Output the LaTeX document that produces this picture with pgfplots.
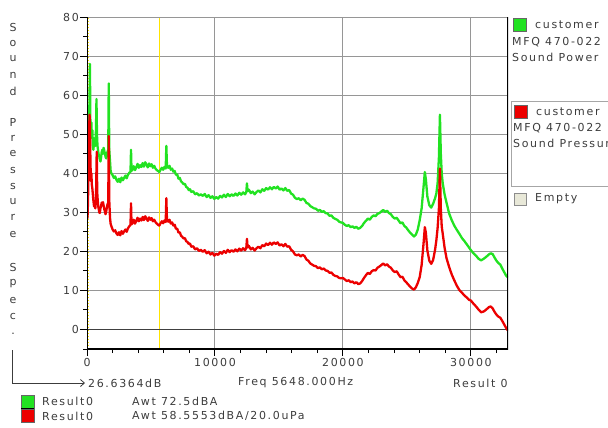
\documentclass[border=0pt]{standalone}
\usepackage{fontspec}
\setmainfont{DejaVu Sans}[LetterSpace=15]
\usepackage{pgfplots}
\pgfplotsset{compat=1.18}
\usetikzlibrary{arrows.meta}
\definecolor{cgreen}{RGB}{34,226,34}
\definecolor{cred}{RGB}{236,0,0}
\definecolor{cyell}{RGB}{255,228,0}
\definecolor{cgrid}{RGB}{150,150,150}
\definecolor{ctext}{RGB}{60,60,60}
\definecolor{cbeige}{RGB}{232,232,216}
\newcommand{\uf}{\fontsize{11}{13}\selectfont}
\begin{document}
\begin{tikzpicture}[x=1pt,y=1pt]
\path[use as bounding box, clip] (0pt,0pt) rectangle (608pt,-428pt);
\begin{axis}[
  at={(87pt,-349pt)}, anchor=south west,
  scale only axis, width=421pt, height=332pt,
  xmin=0, xmax=32900, ymin=-5, ymax=80,
  axis line style={draw=none},
  xtick={0,10000,20000,30000},
  minor xtick={2000,4000,6000,8000,12000,14000,16000,18000,22000,24000,26000,28000,32000},
  ytick={0,10,...,80},
  minor ytick={-5,5,15,25,35,45,55,65,75},
  scaled x ticks=false,
  tick pos=left, tick align=outside,
  major tick length=7pt, minor tick length=4pt,
  every tick/.style={black, line width=1pt},
  grid=major,
  grid style={cgrid, line width=1pt},
  /pgf/number format/1000 sep={},
  /pgf/number format/assume math mode=true,
  ticklabel style={font=\uf, text=ctext},
  yticklabel style={inner sep=1pt},
  xticklabel style={inner sep=2pt},
  clip=true,
]
\addplot[cyell, line width=1.3pt] coordinates {(5648,-5) (5648,80)};
\addplot[cyell, line width=1pt, dotted] coordinates {(80,-5) (80,80)};
\addplot[black!75, line width=1.3pt] coordinates {(0,0) (32900,0)};
% green: sound power
\addplot[cgreen, line width=2.3pt, line join=round] coordinates {
(0,41)(40,44)(80,50)(120,55)(160,52)(200,60)(230,68)(260,54)(300,50)(340,53)(380,49)(420,51)(460,47)(500,46)(550,48)(600,49)(650,47)(700,51)(740,59)(780,50)(820,47)(860,46)(900,45)(950,44.5)(1000,43.5)(1050,43)(1100,44)(1150,45.5)(1200,46)(1250,45)(1300,46.5)(1350,45.8)(1400,45)(1450,44.2)(1500,43.8)(1550,44.5)(1600,45.5)(1660,46)(1700,63)(1740,46)(1800,43)(1850,40.5)(1900,40)
(2000,39.5)(2100,38.8)(2200,39.2)(2300,38.3)(2400,37.8)(2500,38.6)(2600,37.7)(2700,38.9)(2800,38.2)(2900,38.8)(3000,39.4)(3100,38.7)(3200,39.6)(3300,40.1)(3400,40.4)(3440,46)(3480,40.6)(3550,40.9)(3650,41.8)(3750,40.8)(3850,41.5)(3950,42.4)(4050,41.4)(4150,42.1)(4250,41.6)(4350,42.6)(4450,41.7)(4550,42.8)(4650,42.2)(4750,41.5)(4850,42.5)(4950,41.8)(5050,42.3)(5150,41.4)(5250,41.9)(5350,41.2)(5450,40.8)(5550,40.6)(5650,40.3)(5750,40.9)(5850,41.4)(5950,40.9)(6050,41.6)(6150,41.2)(6200,47)(6250,41.8)(6350,41.4)(6450,41.9)(6550,40.9)(6650,41.2)(6750,40.4)(6850,40.6)(6950,39.6)(7050,39.7)(7150,38.6)(7250,38.8)(7350,37.9)(7450,37.6)(7550,37.2)(7650,37.3)(7750,36.5)(7850,36.3)(7950,35.7)(8050,35.9)(8150,35.2)(8300,35.4)(8450,34.6)(8600,34.9)(8750,34.3)(8900,34.6)(9050,34.2)(9200,34.7)(9350,33.9)(9500,34.4)(9650,33.7)(9800,34.1)(9950,33.4)
(10100,33.9)(10250,33.5)(10400,34.2)(10550,33.8)(10700,34.5)(10850,33.9)(11000,34.7)(11150,34.1)(11300,34.6)(11450,34.2)(11600,34.8)(11750,34.3)(11900,35)(12050,34.5)(12200,35.1)(12350,34.6)(12450,35.2)(12500,37.4)(12550,35.4)(12650,35.8)(12800,34.9)(12950,35.3)(13100,34.6)(13250,35.2)(13400,35.6)(13550,35.1)(13700,35.9)(13850,35.5)(14000,36.2)(14150,35.8)(14300,36.4)(14450,35.9)(14600,36.5)(14750,36.1)(14900,36.6)(15050,35.8)(15200,36.1)(15350,35.6)(15500,36.2)(15650,35.5)(15800,35.7)(15950,34.8)(16100,34.5)(16250,33.7)(16400,33.4)(16550,33.6)(16700,33.1)(16850,33.5)(17000,33.2)(17150,32.4)(17300,32.2)(17450,31.6)(17600,31.3)(17750,31)(17900,30.9)(18050,30.4)(18200,30.6)(18350,30.1)(18500,30.3)(18650,29.8)(18800,29.7)(18950,29.1)(19100,29.2)(19250,28.6)(19400,28.3)(19550,28.1)(19700,27.6)(19850,27.4)
(20000,27.3)(20150,26.8)(20300,26.5)(20450,26.7)(20600,26.2)(20750,26.4)(20900,26)(21050,26.3)(21200,25.8)(21350,26)(21500,26.5)(21650,27.3)(21800,27.8)(21950,28.4)(22100,28.1)(22250,28.8)(22400,29.2)(22550,29)(22700,29.6)(22850,29.8)(23000,30.2)(23150,30.6)(23300,30.1)(23450,30.4)(23600,29.8)(23750,29.5)(23900,28.8)(24050,28.4)(24200,28.6)(24350,27.9)(24500,27.2)(24650,27.4)(24800,26.5)(24950,26.1)(25100,25.4)(25250,24.8)(25400,24.3)(25550,23.8)(25700,24.3)(25850,25.6)(26000,28)(26150,31)(26300,36.5)(26400,40.3)(26480,38.5)(26600,34)(26750,31.8)(26900,31.2)(27050,32.2)(27200,33.6)(27300,34.8)(27400,37.5)(27500,44)(27580,55)(27650,45)(27720,40)(27800,37.4)(27950,34.5)(28100,32.4)(28300,29.7)(28500,28)(28700,26.6)(28900,25.5)(29100,24.5)(29300,23.4)(29500,22.6)(29700,21.7)(29850,21)
(30000,20.3)(30200,19.5)(30400,18.9)(30600,18.1)(30800,17.7)(31000,18.1)(31200,18.6)(31400,19.2)(31550,19.5)(31700,19.3)(31850,18.4)(32000,17.6)(32150,17)(32300,16.6)(32450,15.6)(32600,14.7)(32750,13.8)(32900,13.3)
};
% red: sound pressure
\addplot[cred, line width=2.3pt, line join=round] coordinates {
(0,30)(40,28.5)(80,33)(120,42)(160,50)(200,55)(230,52)(260,45)(300,38)(340,40)(380,37)(420,36)(460,34.5)(500,33)(550,31.5)(600,32.5)(650,31)(700,33)(760,45.5)(800,35)(840,33)(880,31.5)(920,30.8)(960,30)(1000,29.8)(1050,31)(1100,31.6)(1150,32.5)(1200,31.8)(1250,32.6)(1300,31.7)(1350,30.8)(1400,30.2)(1450,29.5)(1500,30.2)(1550,31.2)(1600,32)(1660,32.5)(1700,49.5)(1740,33)(1800,28.5)(1850,27)(1900,26.5)
(2000,25.6)(2100,25.1)(2200,25.4)(2300,24.6)(2400,24.2)(2500,24.9)(2600,24.1)(2700,25.2)(2800,24.5)(2900,25.1)(3000,25.6)(3100,25)(3200,25.9)(3300,26.4)(3400,26.8)(3440,32.3)(3480,26.9)(3550,27.2)(3650,28.1)(3750,27.1)(3850,27.8)(3950,28.6)(4050,27.7)(4150,28.4)(4250,27.9)(4350,28.8)(4450,28)(4550,29)(4650,28.4)(4750,27.8)(4850,28.7)(4950,28.1)(5050,28.5)(5150,27.7)(5250,28.1)(5350,27.5)(5450,27.1)(5550,26.8)(5650,26.6)(5750,27.2)(5850,27.7)(5950,27.2)(6050,27.9)(6150,27.5)(6200,33.6)(6250,28)(6350,27.6)(6450,28.1)(6550,27.1)(6650,27.4)(6750,26.6)(6850,26.8)(6950,25.8)(7050,25.8)(7150,24.8)(7250,24.9)(7350,24)(7450,23.7)(7550,23.3)(7650,23.4)(7750,22.6)(7850,22.4)(7950,21.9)(8050,22)(8150,21.2)(8300,21.3)(8450,20.5)(8600,20.8)(8750,20.1)(8900,20.4)(9050,19.9)(9200,20.3)(9350,19.5)(9500,19.9)(9650,19.2)(9800,19.6)(9950,18.9)
(10100,19.4)(10250,19.1)(10400,19.8)(10550,19.4)(10700,20.1)(10850,19.6)(11000,20.4)(11150,19.8)(11300,20.3)(11450,19.9)(11600,20.5)(11750,20)(11900,20.7)(12050,20.2)(12200,20.8)(12350,20.3)(12450,20.9)(12500,23.2)(12550,21)(12650,21.4)(12800,20.5)(12950,20.9)(13100,20.2)(13250,20.8)(13400,21.2)(13550,20.8)(13700,21.6)(13850,21.3)(14000,22)(14150,21.6)(14300,22.2)(14450,21.7)(14600,22.3)(14750,21.9)(14900,22.3)(15050,21.5)(15200,21.8)(15350,21.3)(15500,21.9)(15650,21.2)(15800,21.3)(15950,20.4)(16100,20)(16250,19.2)(16400,19)(16550,19.2)(16700,18.7)(16850,19.1)(17000,18.8)(17150,17.9)(17300,17.6)(17450,16.9)(17600,16.6)(17750,16.3)(17900,16.2)(18050,15.7)(18200,15.9)(18350,15.4)(18500,15.6)(18650,15.1)(18800,15)(18950,14.5)(19100,14.6)(19250,14)(19400,13.7)(19550,13.6)(19700,13.2)(19850,13.1)
(20000,13.2)(20150,12.8)(20300,12.4)(20450,12.6)(20600,12.1)(20750,12.3)(20900,11.8)(21050,12.1)(21200,11.6)(21350,11.8)(21500,12.4)(21650,13.2)(21800,13.9)(21950,14.5)(22100,14.2)(22250,14.9)(22400,15.2)(22550,15.1)(22700,15.8)(22850,16.1)(23000,16.5)(23150,16.9)(23300,16.4)(23450,16.7)(23600,16.1)(23750,15.8)(23900,15.1)(24050,14.7)(24200,14.9)(24350,14.1)(24500,13.4)(24650,13.5)(24800,12.6)(24950,12.1)(25100,11.5)(25250,11)(25400,10.5)(25550,10.2)(25700,10.8)(25850,11.9)(26000,13.4)(26150,16.5)(26300,22)(26400,26.2)(26480,24.8)(26600,20.2)(26750,17.6)(26900,16.8)(27050,17.8)(27200,20.4)(27300,22.8)(27400,26)(27500,31)(27580,41.2)(27650,31)(27720,26.4)(27800,24.5)(27950,20.8)(28100,18.2)(28300,16)(28500,14.1)(28700,12.6)(28900,11.2)(29100,10.1)(29300,9.4)(29500,8.7)(29700,8.1)(29850,7.6)
(30000,7.4)(30200,6.6)(30400,5.9)(30600,5.1)(30800,4.4)(31000,4.6)(31200,5.1)(31400,5.7)(31550,5.9)(31700,5.4)(31850,4.5)(32000,3.8)(32150,3.3)(32300,3)(32450,2.2)(32600,1.3)(32750,0.4)(32900,-0.3)
};
\draw[cgrid, line width=1.5pt] (rel axis cs:0,1) -- (rel axis cs:1,1);
\draw[black, line width=1.6pt] (rel axis cs:0,1) -- (rel axis cs:0,0) -- (rel axis cs:1,0) -- (rel axis cs:1,1);
\end{axis}
% vertical axis title, stacked letters
\foreach \ch/\yy in {S/27,o/43,u/58,n/75,d/91,P/122,r/138,e/153,s/170,s/186,u/201,r/217,e/234,S/267,p/284,e/300,c/316,./334}
  \node[font=\uf, text=ctext, inner sep=0pt] at (13pt,-\yy pt) {\ch};
\draw[ctext, line width=0.8pt, -{Straight Barb[length=4pt,width=7pt]}] (12pt,-350pt) -- (12pt,-383pt) -- (85pt,-383pt);
\node[font=\uf, text=ctext, anchor=west, inner sep=0pt] at (88pt,-383pt) {26.6364dB};
\node[font=\uf, text=ctext, anchor=west, inner sep=0pt] at (238pt,-383pt) {Freq 5648.000Hz};
\node[font=\uf, text=ctext, anchor=west, inner sep=0pt] at (453pt,-383pt) {Result 0};
% bottom legend
\filldraw[fill=cgreen, draw=black!60, line width=0.6pt] (21pt,-395pt) rectangle (34pt,-408pt);
\filldraw[fill=cred, draw=black!60, line width=0.6pt] (21pt,-409pt) rectangle (34pt,-422pt);
\draw[black, line width=1pt] (21pt,-408.5pt) -- (34pt,-408.5pt);
\node[font=\uf, text=ctext, anchor=west, inner sep=0pt] at (42pt,-401pt) {Result0};
\node[font=\uf, text=ctext, anchor=west, inner sep=0pt] at (132pt,-401pt) {Awt 72.5dBA};
\node[font=\uf, text=ctext, anchor=west, inner sep=0pt] at (42pt,-416pt) {Result0};
\node[font=\uf, text=ctext, anchor=west, inner sep=0pt] at (132pt,-416pt) {Awt 58.5553dBA/20.0uPa};
% right legend
\filldraw[fill=cgreen, draw=black!60, line width=0.6pt] (513pt,-18pt) rectangle (526pt,-31pt);
\node[font=\uf, text=ctext, anchor=west, inner sep=0pt] at (535pt,-25pt) {customer};
\node[font=\uf, text=ctext, anchor=west, inner sep=0pt] at (512pt,-42pt) {MFQ 470-022};
\node[font=\uf, text=ctext, anchor=west, inner sep=0pt] at (512pt,-57pt) {Sound Power};
\draw[black!35, line width=0.8pt] (511pt,-101pt) rectangle (640pt,-186pt);
\filldraw[fill=cred, draw=black!60, line width=0.6pt] (514pt,-105pt) rectangle (527pt,-118pt);
\node[font=\uf, text=ctext, anchor=west, inner sep=0pt] at (536pt,-112pt) {customer};
\node[font=\uf, text=ctext, anchor=west, inner sep=0pt] at (513pt,-128pt) {MFQ 470-022};
\node[font=\uf, text=ctext, anchor=west, inner sep=0pt] at (513pt,-143pt) {Sound Pressure};
\filldraw[fill=cbeige, draw=black!45, line width=0.6pt] (514pt,-193pt) rectangle (526pt,-205pt);
\node[font=\uf, text=ctext, anchor=west, inner sep=0pt] at (535pt,-199pt) {Empty};
\end{tikzpicture}
\end{document}
